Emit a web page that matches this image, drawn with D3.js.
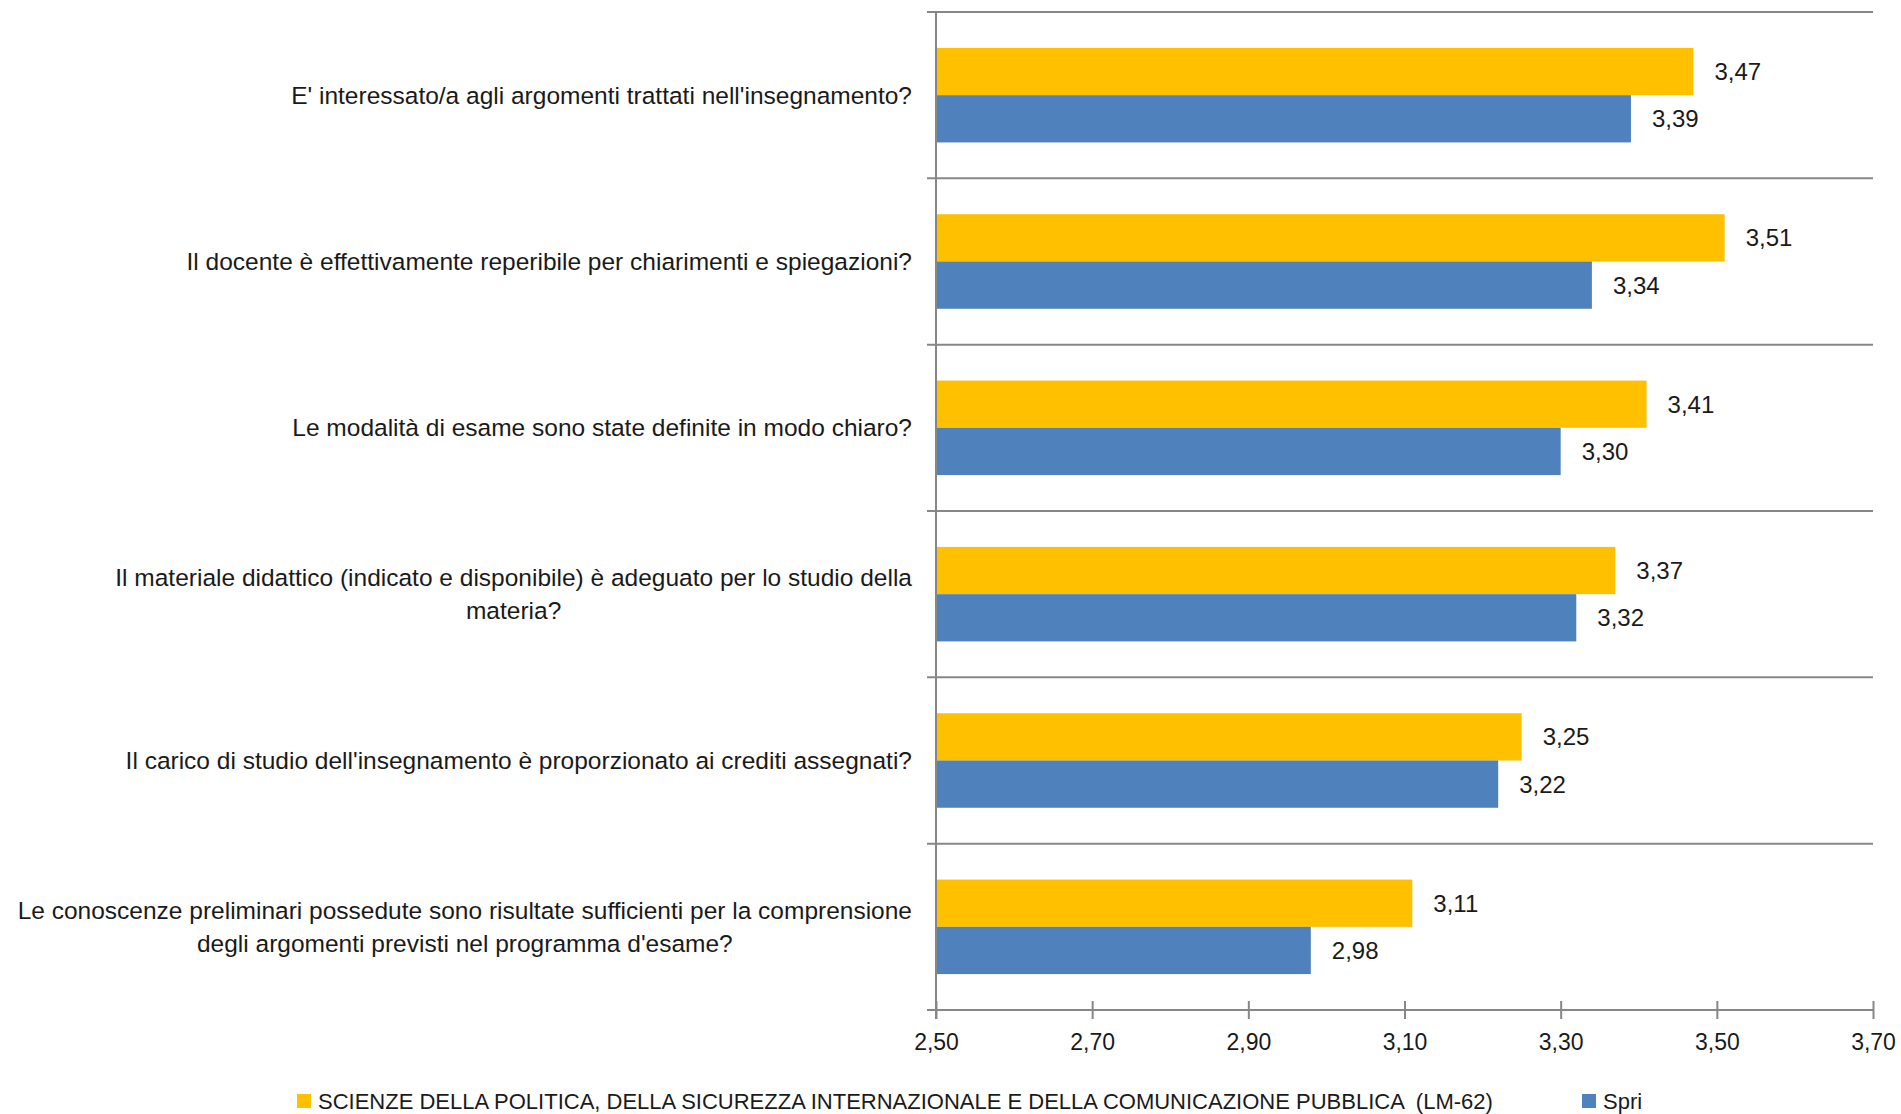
<!DOCTYPE html>
<meta charset="utf-8">
<style>
body { margin: 0; background: #fff; }
svg text { font-family: "Liberation Sans Narrow", "Arial Narrow", "Liberation Sans", sans-serif; fill: #1a1a1a; }
</style>
<svg width="1901" height="1114"></svg>
<script src="https://d3js.org/d3.v7.min.js"></script>
<script>

// questions, top to bottom (lines split like the original)
var questions = [
  ["E' interessato/a agli argomenti trattati nell'insegnamento?"],
  ["Il docente è effettivamente reperibile per chiarimenti e spiegazioni?"],
  ["Le modalità di esame sono state definite in modo chiaro?"],
  ["Il materiale didattico (indicato e disponibile) è adeguato per lo studio della", "materia?"],
  ["Il carico di studio dell'insegnamento è proporzionato ai crediti assegnati?"],
  ["Le conoscenze preliminari possedute sono risultate sufficienti per la comprensione", "degli argomenti previsti nel programma d'esame?"]
];
var lm62 = [3.47, 3.51, 3.41, 3.37, 3.25, 3.11];
var spri = [3.39, 3.34, 3.30, 3.32, 3.22, 2.98];
var seriesNames = ["SCIENZE DELLA POLITICA, DELLA SICUREZZA INTERNAZIONALE E DELLA COMUNICAZIONE PUBBLICA  (LM-62)", "Spri"];
var seriesColors = ["#ffc000", "#4f81bd"];
var xTicks = [2.5, 2.7, 2.9, 3.1, 3.3, 3.5, 3.7];

var svg = d3.select("svg"),
    plotLeft = 936, plotRight = 1873, plotTop = 12, plotBottom = 1010,
    labelSize = 24.5, valueSize = 24, tickSize = 23,
    gridColor = "#878787";

var x = d3.scaleLinear().domain([2.5, 3.7]).range([plotLeft, plotRight]);

var y = d3.scaleBand()
    .domain(d3.range(questions.length))
    .range([plotTop, plotBottom])
    .padding(0);

var inner = d3.scaleBand()
    .domain([0, 1])
    .range([0, y.bandwidth()])
    .paddingInner(0)
    .paddingOuter(0.76);

var fmt = function(v) { return d3.format(".2f")(v).replace(".", ","); };

// horizontal gridlines at category boundaries (with crossing tick on the left)
var bounds = d3.range(questions.length).map(function(i) { return y(i); });
svg.selectAll(".grid")
  .data(bounds)
  .enter().append("line")
    .attr("x1", plotLeft - 9)
    .attr("x2", plotRight)
    .attr("y1", function(d) { return d; })
    .attr("y2", function(d) { return d; })
    .attr("stroke", gridColor)
    .attr("stroke-width", 2);

// bars
var rows = questions.map(function(q, i) { return [lm62[i], spri[i]]; });
var groups = svg.selectAll(".row")
  .data(rows)
  .enter().append("g")
    .attr("transform", function(d, i) { return "translate(0," + y(i) + ")"; });

groups.selectAll("rect")
  .data(function(d) { return d; })
  .enter().append("rect")
    .attr("x", x(2.5))
    .attr("y", function(d, j) { return inner(j); })
    .attr("width", function(d) { return x(d) - x(2.5); })
    .attr("height", inner.bandwidth())
    .attr("fill", function(d, j) { return seriesColors[j]; });

groups.selectAll(".val")
  .data(function(d) { return d; })
  .enter().append("text")
    .attr("x", function(d) { return x(d) + 21; })
    .attr("y", function(d, j) { return inner(j) + inner.bandwidth() / 2; })
    .attr("dy", "0.35em")
    .style("font-size", valueSize + "px")
    .text(fmt);

// value axis
var xAxis = svg.append("g")
    .attr("transform", "translate(0," + plotBottom + ")")
    .call(d3.axisBottom(x).tickValues(xTicks).tickFormat(fmt).tickSizeInner(0).tickSizeOuter(0).tickPadding(24));
xAxis.attr("font-family", null).attr("font-size", null);
xAxis.select(".domain").attr("stroke", gridColor).attr("stroke-width", 2)
    .attr("d", "M" + (plotLeft - 9) + ",0H" + plotRight);
xAxis.selectAll(".tick line").attr("stroke", gridColor).attr("stroke-width", 2)
    .attr("y1", -9).attr("y2", 9);
xAxis.selectAll(".tick text")
    .style("font-size", tickSize + "px")
    .attr("fill", "#1a1a1a");

// category axis line
svg.append("line")
    .attr("x1", plotLeft).attr("x2", plotLeft)
    .attr("y1", plotTop).attr("y2", plotBottom + 9)
    .attr("stroke", gridColor)
    .attr("stroke-width", 2);

// question labels: right edge at 912, multi-line labels centred on each other
var labelRight = 912, lineH = 33;
questions.forEach(function(lines, i) {
  var g = svg.append("g");
  var cy = y(i) + y.bandwidth() / 2;
  var texts = lines.map(function(s, k) {
    return g.append("text")
      .attr("y", cy + (k - (lines.length - 1) / 2) * lineH)
      .attr("dy", "0.35em")
      .attr("text-anchor", "middle")
      .style("font-size", labelSize + "px")
      .text(s);
  });
  var w = d3.max(texts, function(t) { return t.node().getComputedTextLength(); });
  texts.forEach(function(t) { t.attr("x", labelRight - w / 2); });
});

// legend
var legendX = [297, 1582], legendY = 1101;
seriesNames.forEach(function(name, j) {
  svg.append("rect")
    .attr("x", legendX[j]).attr("y", legendY - 7)
    .attr("width", 14).attr("height", 14)
    .attr("fill", seriesColors[j]);
  svg.append("text")
    .attr("x", legendX[j] + 21).attr("y", legendY)
    .attr("dy", "0.35em")
    .style("font-size", "22px")
    .style("white-space", "pre")
    .text(name);
});

</script>
